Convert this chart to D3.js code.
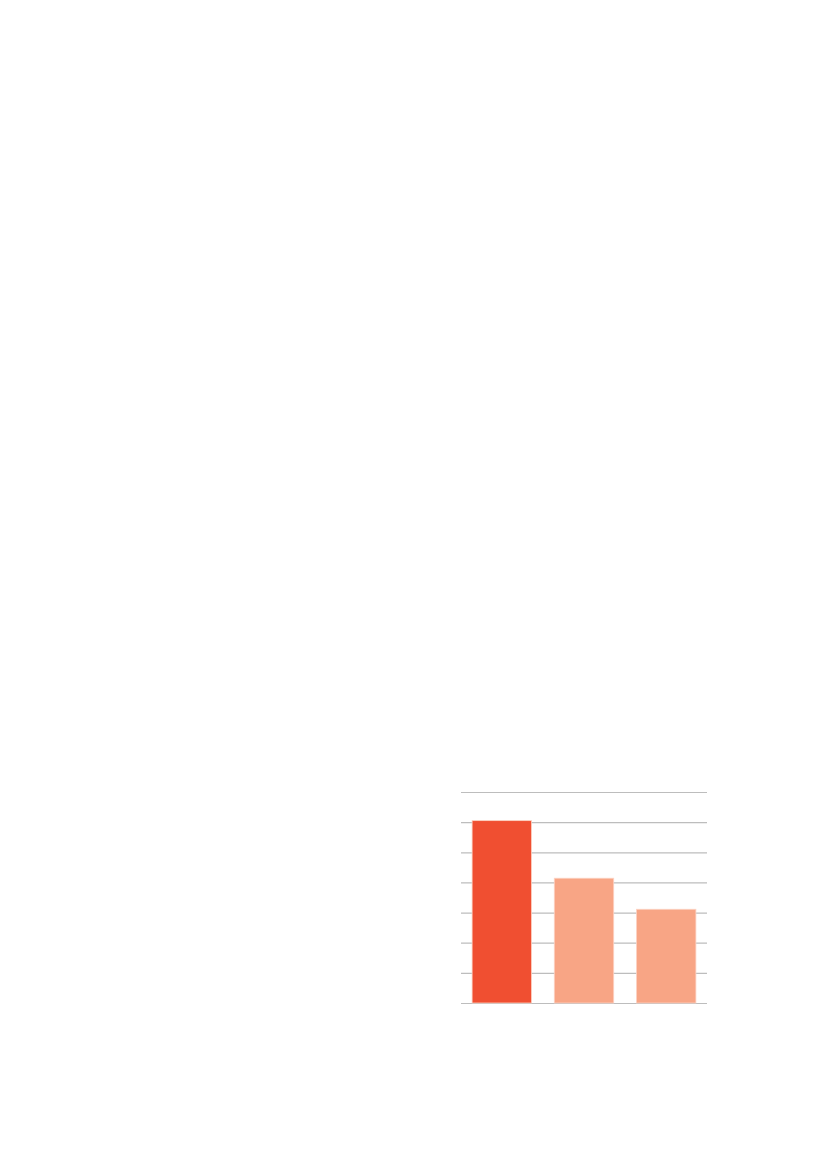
<!DOCTYPE html>
<html>
<head>
<meta charset="utf-8">
<script src="https://cdn.jsdelivr.net/npm/d3@7"></script>
<style>
  html, body { margin: 0; padding: 0; background: #fff; }
  .grid line { stroke: #bdbdbd; stroke-width: 1.2; }
  .grid path { display: none; }
</style>
</head>
<body>
<div class="chart"></div>
<script>
'use strict';
// three bars, no labels on the original
var categories = ['A', 'B', 'C'];
var values = [6.05, 4.14, 3.11];
var barColors = ['#f04f31', '#f8a585', '#f8a585'];
var tickValues = [0, 1, 2, 3, 4, 5, 6, 7];

var width = 827, height = 1169;

var svg = d3.select('.chart').append('svg')
  .attr('width', width)
  .attr('height', height);

var x = d3.scaleBand()
  .domain(categories)
  .range([461, 707])
  .paddingInner(0.277)
  .paddingOuter(0.135);

var y = d3.scaleLinear()
  .domain([0, 7])
  .range([1003, 792]);

// horizontal gridlines
svg.append('g')
  .attr('class', 'grid')
  .attr('transform', 'translate(461,0)')
  .call(d3.axisLeft(y)
    .tickValues(tickValues)
    .tickSize(-246)
    .tickFormat(''));

svg.selectAll('.bar')
  .data(values)
  .enter().append('rect')
  .attr('class', 'bar')
  .attr('x', function(d, i) {
    return x(categories[i]);
  })
  .attr('width', x.bandwidth())
  .attr('y', function(d) {
    return y(d);
  })
  .attr('height', function(d) {
    return y(0) - y(d);
  })
  .attr('fill', function(d, i) {
    return barColors[i];
  })
  .attr('stroke', '#fcd3c4')
  .attr('stroke-width', 0.8);
</script>
</body>
</html>
